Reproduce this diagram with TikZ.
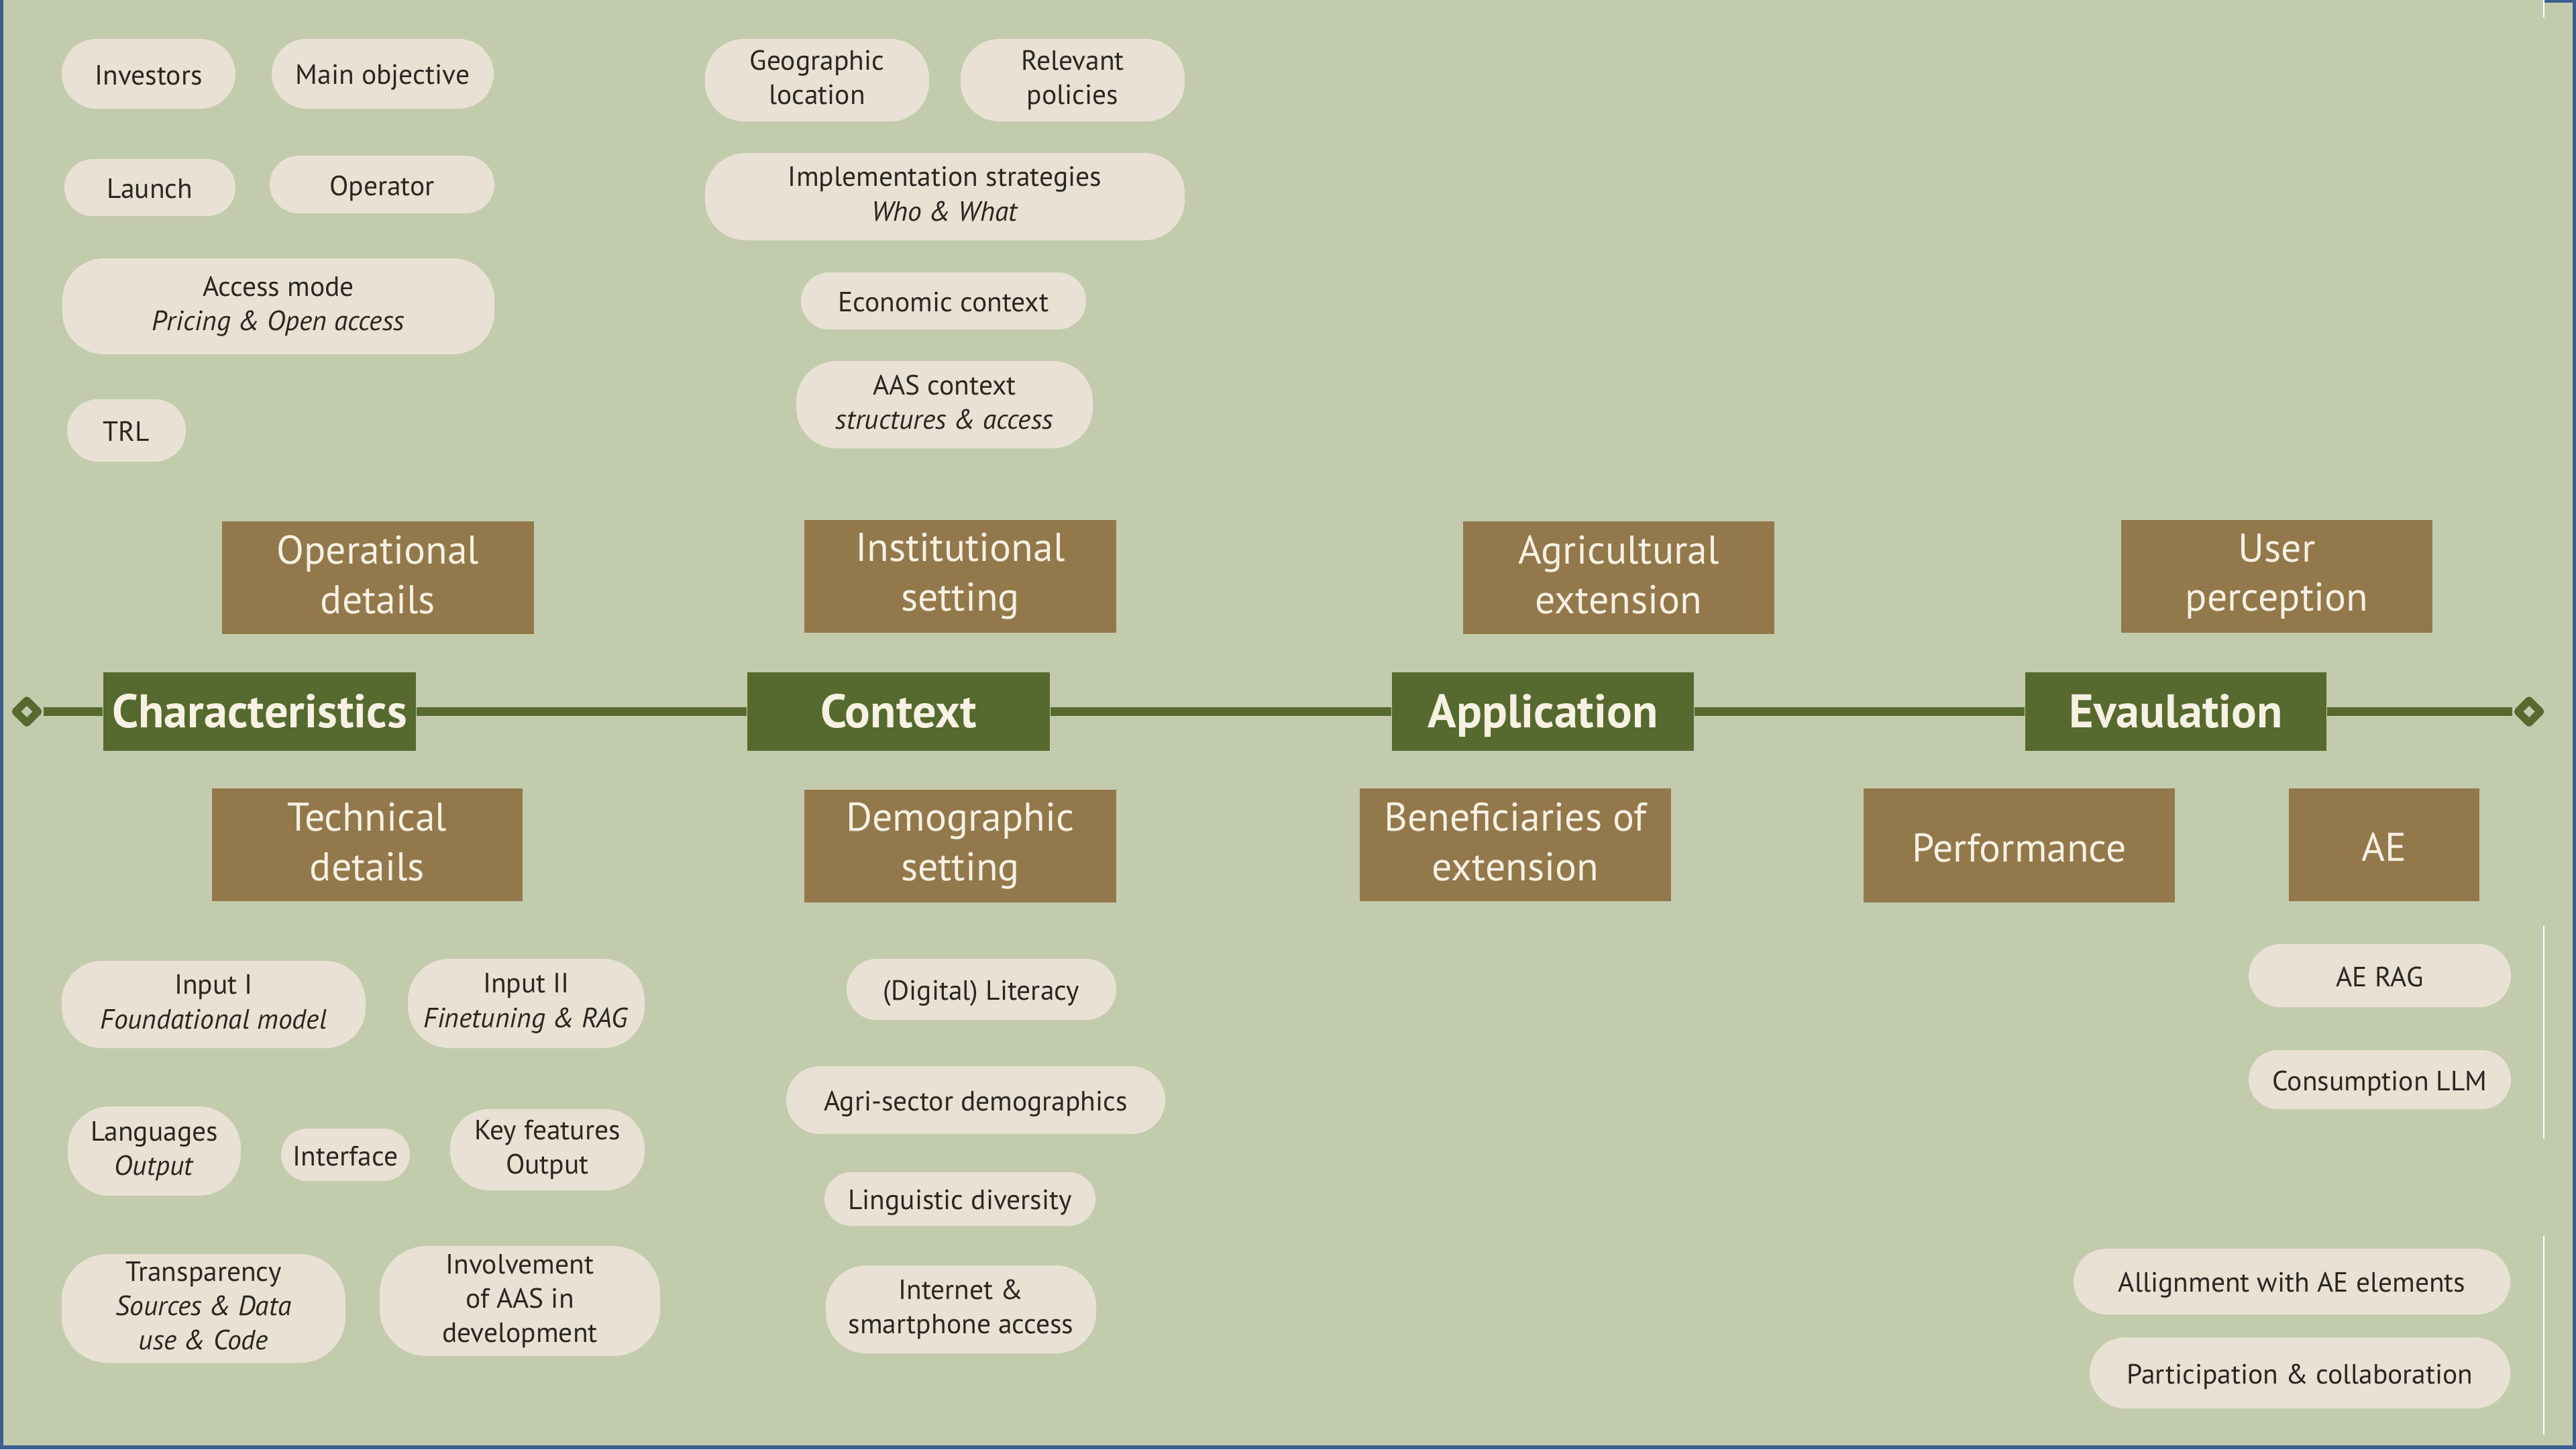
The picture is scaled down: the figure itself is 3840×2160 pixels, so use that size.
\documentclass[tikz,border=0pt]{standalone}
\usepackage{fontspec}
\setmainfont{PT Sans}
\usetikzlibrary{shapes.geometric}
\definecolor{bgc}{HTML}{C3CBAD}
\definecolor{pillc}{HTML}{E9E1D3}
\definecolor{brownc}{HTML}{93784C}
\definecolor{greenc}{HTML}{56692E}
\definecolor{borderc}{HTML}{3B6090}
\definecolor{inkc}{HTML}{2A2622}
\definecolor{creamc}{HTML}{F6F1E2}
\newcommand\pillstrut{\rule[-0.16\baselineskip]{0pt}{0.95\baselineskip}}
\newcommand\boxstrut{\rule[-0.13\baselineskip]{0pt}{0.93\baselineskip}}
\newcommand\headstrut{\rule[-0.23\baselineskip]{0pt}{1.03\baselineskip}}
\tikzset{
  pill/.style n args={3}{fill=pillc, text=inkc, align=center, inner sep=0pt,
    minimum width=#1*0.01cm, minimum height=#2*0.01cm, rounded corners=#3*0.01cm,
    font=\fontsize{11.8}{14.6}\selectfont,
    execute at begin node=\pillstrut, execute at end node=\pillstrut},
  subbox/.style n args={2}{fill=brownc, text=creamc, align=center, inner sep=0pt,
    minimum width=#1*0.01cm, minimum height=#2*0.01cm,
    font=\fontsize{17}{21}\selectfont,
    execute at begin node=\boxstrut, execute at end node=\boxstrut},
  headbox/.style={fill=greenc, text=creamc, align=center, inner sep=0pt,
    minimum width=#1*0.01cm, minimum height=1.17cm,
    font=\fontsize{20}{24}\selectfont\bfseries,
    execute at begin node=\headstrut},
  enddiam/.style={diamond, draw=greenc, fill=bgc, line width=3.2pt, line join=round,
    inner sep=0pt, minimum width=0.38cm, minimum height=0.38cm},
  mainline/.style={draw=greenc, line width=3.7pt},
  artline/.style={draw=white, line width=0.8pt}
}
\begin{document}
\begin{tikzpicture}[x=0.01cm,y=-0.01cm]
\useasboundingbox (0,0) rectangle (3840,2160);
\fill[bgc] (0,0) rectangle (3840,2160);
% frame
\fill[borderc] (0,0) rectangle (5,2160);
\fill[borderc] (0,2154) rectangle (3840,2160);
\fill[borderc] (3835,0) rectangle (3840,2160);
\fill[borderc] (3793,0) rectangle (3840,4);
\draw[artline] (3792,0) -- (3792,26);
\draw[artline] (3792,1380) -- (3792,1697);
\draw[artline] (3792,1842) -- (3792,2138);

% timeline
\node[enddiam] (dl) at (40,1060.5) {};
\node[enddiam] (dr) at (3770,1060.5) {};
\node[headbox=466] (char) at (387,1060.5) {Characteristics};
\node[headbox=451] (ctx) at (1339.5,1060.5) {Context};
\node[headbox=450] (app) at (2300,1060.5) {Application};
\node[headbox=449] (eva) at (3243.5,1060.5) {Evaulation};
\draw[mainline] (dl) -- (char);
\draw[mainline] (char) -- (ctx);
\draw[mainline] (ctx) -- (app);
\draw[mainline] (app) -- (eva);
\draw[mainline] (eva) -- (dr);

% brown sub-boxes
\node[subbox={465}{168}] (opdet) at (563.5,861) {Operational\\details};
\node[subbox={465}{168}] (inst) at (1431.5,859) {Institutional\\setting};
\node[subbox={464}{168}] (agext) at (2413,861) {Agricultural\\extension};
\node[subbox={464}{168}] (userp) at (3394,859) {User\\perception};
\node[subbox={463}{168}] (techdet) at (547.5,1259) {Technical\\details};
\node[subbox={465}{168}] (demo) at (1431.5,1261) {Demographic\\setting};
\node[subbox={464}{168}] (benef) at (2259,1259) {Beneficiaries of\\extension};
\node[subbox={464}{170}] (perf) at (3010,1260) {Performance};
\node[subbox={284}{168}] (ae) at (3554,1259) {AE};

% operational details pills
\node[pill={259}{104}{52}] (inv) at (221.5,110) {Investors};
\node[pill={331}{104}{52}] (mobj) at (570.5,110) {Main objective};
\node[pill={255}{85}{42}] (launch) at (223.5,279.5) {Launch};
\node[pill={335}{86}{43}] (oper) at (569.5,275) {Operator};
\node[pill={644}{143}{62}] (access) at (415,456.5) {Access mode\\\textit{Pricing \& Open access}};
\node[pill={177}{93}{46}] (trl) at (188.5,641.5) {TRL};

% institutional setting pills
\node[pill={334}{123}{58}] (geo) at (1218,119.5) {Geographic\\location};
\node[pill={334}{123}{58}] (pol) at (1599,119.5) {Relevant\\policies};
\node[pill={715}{130}{60}] (impl) at (1408.5,293) {Implementation strategies\\\textit{Who \& What}};
\node[pill={425}{85}{42}] (econ) at (1406.5,448.5) {Economic context};
\node[pill={442}{130}{60}] (aas) at (1408,603) {AAS context\\\textit{structures \& access}};

% technical details pills
\node[pill={453}{130}{60}] (in1) at (318.5,1497) {Input I\\\textit{Foundational model}};
\node[pill={353}{133}{62}] (in2) at (784.5,1495.5) {Input II\\\textit{Finetuning \& RAG}};
\node[pill={258}{133}{62}] (lang) at (230,1715.5) {Languages\\\textit{Output}};
\node[pill={192}{78}{39}] (intf) at (515,1721) {Interface};
\node[pill={290}{121}{58}] (keyf) at (816,1713.5) {Key features\\Output};
\node[pill={423}{162}{68}] (transp) at (303.5,1950) {Transparency\\\textit{Sources \& Data}\\\textit{use \& Code}};
\node[pill={418}{164}{70}] (invol) at (775,1939) {Involvement\\of AAS in\\development};

% demographic setting pills
\node[pill={402}{91}{45}] (lit) at (1463,1474.5) {(Digital) Literacy};
\node[pill={565}{101}{50}] (agri) at (1454.5,1639.5) {Agri-sector demographics};
\node[pill={404}{80}{40}] (ling) at (1431,1787) {Linguistic diversity};
\node[pill={403}{131}{60}] (inet) at (1432.5,1951.5) {Internet \&\\smartphone access};

% AE / performance pills
\node[pill={391}{94}{47}] (aerag) at (3547.5,1454) {AE RAG};
\node[pill={391}{88}{44}] (cons) at (3547.5,1609) {Consumption LLM};
\node[pill={651}{98}{49}] (allign) at (3416.5,1910) {Allignment with AE elements};
\node[pill={627}{106}{53}] (partic) at (3428.5,2046) {Participation \& collaboration};
\end{tikzpicture}
\end{document}
